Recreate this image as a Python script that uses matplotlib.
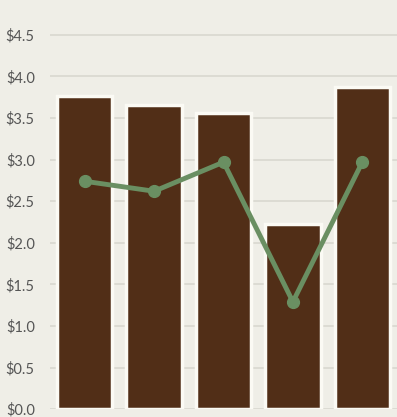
import numpy as np
import matplotlib.pyplot as plt

# valores
categorias = ['A', 'B', 'C', 'D', 'E']
barras = [3.76, 3.66, 3.56, 2.22, 3.87]
linea = [2.74, 2.62, 2.97, 1.29, 2.97]
ticks_y = [0.0, 0.5, 1.0, 1.5, 2.0, 2.5, 3.0, 3.5, 4.0, 4.5]

fondo = '#efeee7'
x = np.arange(len(categorias))

fig = plt.figure(figsize=(3.97, 4.17), dpi=100, facecolor=fondo)
ax = fig.add_axes([0.126, 0.019, 0.874, 0.981])
ax.set_facecolor(fondo)

# grilla horizontal
ax.set_yticks(ticks_y)
ax.set_yticklabels([f'${v:.1f}' for v in ticks_y])
ax.grid(axis='y', color='#dcdbd3', linewidth=1.4)
ax.set_axisbelow(True)

ax.bar(x, barras, width=0.8, color='#512e17', edgecolor='#fbfaf4', linewidth=2.5, zorder=2)
ax.plot(x, linea, color='#6a8f62', linewidth=3.5, marker='o', markersize=8.5, zorder=3)

ax.set_xlim(-0.5, 4.5)
ax.set_ylim(0, 4.92)
ax.set_xticks([])
for s in ax.spines.values():
    s.set_visible(False)
ax.tick_params(axis='y', length=0, pad=11, labelsize=10.5, labelcolor='#555555')
for t in ax.get_yticklabels():
    t.set_fontfamily('Lato')

plt.savefig('out.png', dpi=100, facecolor=fondo)
